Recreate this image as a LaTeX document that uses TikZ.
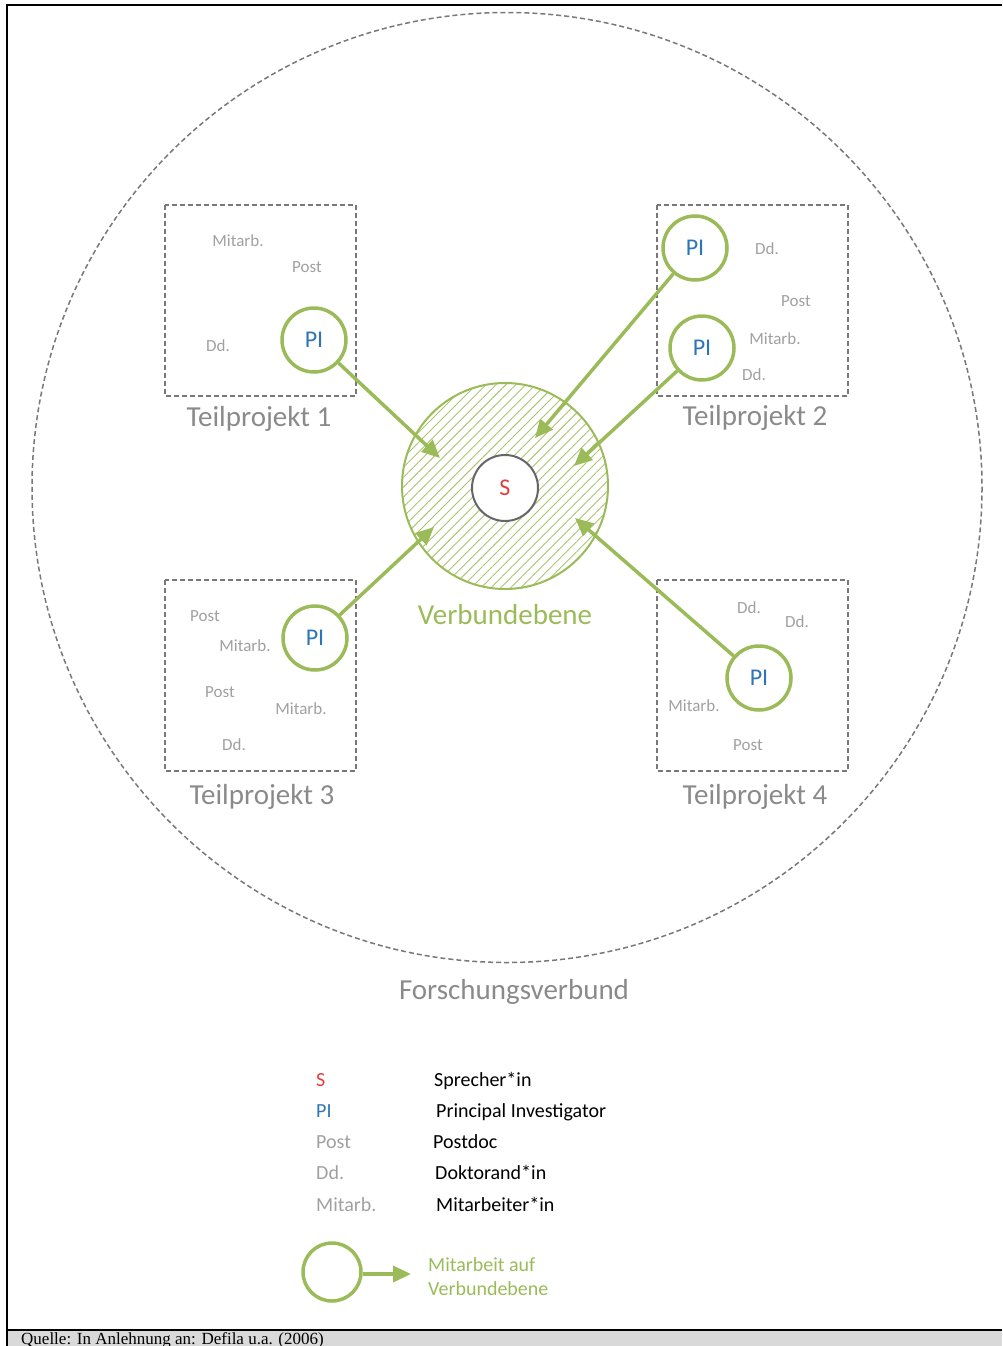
\documentclass[tikz,border=0pt]{standalone}
\usepackage{fontspec}
\setmainfont{Carlito}
\newfontfamily\srcfont{Liberation Serif}
\usetikzlibrary{arrows.meta,patterns.meta}
\definecolor{vgreen}{RGB}{155,187,89}
\definecolor{piblue}{RGB}{46,117,182}
\definecolor{sred}{RGB}{222,64,64}
\definecolor{lblgrey}{RGB}{138,138,138}
\definecolor{smgrey}{RGB}{160,160,160}
\definecolor{boxgrey}{RGB}{120,120,120}
\definecolor{bargrey}{RGB}{217,217,217}
\tikzset{
  picirc/.style={circle, draw=vgreen, line width=3.5pt, fill=white, minimum size=64pt, inner sep=0pt, text=piblue, font=\fontsize{24}{28}\selectfont},
  tpbox/.style={draw=boxgrey, dashed, dash pattern=on 5pt off 3pt, line width=1.8pt},
  biglbl/.style={text=lblgrey, font=\fontsize{29}{34}\selectfont},
  smlbl/.style={text=smgrey, font=\fontsize{17}{20}\selectfont},
  linkarrow/.style={draw=vgreen, line width=3.5pt, -{Triangle[length=18pt,width=16pt]}},
  legl/.style={anchor=base west, inner sep=0pt, font=\fontsize{20}{24}\selectfont},
}
\begin{document}
\begin{tikzpicture}[x=1pt,y=-1pt]
\useasboundingbox (0,0) rectangle (1002,1346);
% frame
\fill[bargrey] (6,1330) rectangle (1002,1346);
\draw[line width=2pt] (1002,5) -- (6.5,5) -- (6.5,1346);
\draw[line width=2pt] (6,1329.5) -- (1002,1329.5);
\node[anchor=base west, font=\srcfont\fontsize{17}{19}\selectfont, inner sep=0pt] (src) at (21,1344) {Quelle: In Anlehnung an: Defila u.a. (2006)};

% big dashed circle
\draw[boxgrey, dashed, dash pattern=on 5pt off 3pt, line width=1.5pt] (507,487.5) circle (475);
\node[biglbl] (fv) at (514,992) {Forschungsverbund};

% central hatched circle
\node[circle, draw=vgreen, line width=2pt, minimum size=206pt, inner sep=0pt,
  pattern={Lines[angle=45,distance=7pt,line width=0.9pt]}, pattern color=vgreen!85] (vb) at (505,486) {};
\node[circle, draw=black!60, line width=2pt, fill=white, minimum size=66pt, inner sep=0pt, text=sred, font=\fontsize{24}{28}\selectfont] (S) at (505,488) {S};
\node[text=vgreen, font=\fontsize{29}{34}\selectfont] (vbl) at (505,615) {Verbundebene};

% Teilprojekt boxes
\draw[tpbox] (165,205) rectangle (356,396);
\draw[tpbox] (657,205) rectangle (848,396);
\draw[tpbox] (165,580) rectangle (356,771);
\draw[tpbox] (657,580) rectangle (848,771);
\node[biglbl] (t1) at (259,419) {Teilprojekt 1};
\node[biglbl] (t2) at (755,418) {Teilprojekt 2};
\node[biglbl] (t3) at (262,797) {Teilprojekt 3};
\node[biglbl] (t4) at (755,797) {Teilprojekt 4};

% small labels
\node[smlbl] at (238,241) {Mitarb.};
\node[smlbl] at (307,267) {Post};
\node[smlbl] at (218,346) {Dd.};
\node[smlbl] at (767,249) {Dd.};
\node[smlbl] at (796,301) {Post};
\node[smlbl] at (775,339) {Mitarb.};
\node[smlbl] at (754,375) {Dd.};
\node[smlbl] at (205,616) {Post};
\node[smlbl] at (245,646) {Mitarb.};
\node[smlbl] at (220,692) {Post};
\node[smlbl] at (301,709) {Mitarb.};
\node[smlbl] at (234,745) {Dd.};
\node[smlbl] at (749,608) {Dd.};
\node[smlbl] at (797,622) {Dd.};
\node[smlbl] at (694,706) {Mitarb.};
\node[smlbl] at (748,745) {Post};

% PI circles
\node[picirc] (p1) at (314,340) {PI};
\node[picirc] (p2a) at (695,248) {PI};
\node[picirc] (p2b) at (702,348) {PI};
\node[picirc] (p3) at (315,638) {PI};
\node[picirc] (p4) at (759,678) {PI};

% arrow ends
\coordinate (e1) at (440,458);
\coordinate (e2a) at (535,438);
\coordinate (e2b) at (574,466);
\coordinate (e3) at (434,527);
\coordinate (e4) at (575,518);
\draw[linkarrow] (p1) -- (e1);
\draw[linkarrow] (p2a) -- (e2a);
\draw[linkarrow] (p2b) -- (e2b);
\draw[linkarrow] (p3) -- (e3);
\draw[linkarrow] (p4) -- (e4);

% legend
\node[legl, text=sred] (ls) at (316,1086) {S};
\node[legl] (lsd) at (434,1086) {Sprecher*in};
\node[legl, text=piblue] (lpi) at (316,1117) {PI};
\node[legl] (lpid) at (436,1117) {Principal Investigator};
\node[legl, text=smgrey] (lpo) at (316,1148) {Post};
\node[legl] (lpod) at (433,1148) {Postdoc};
\node[legl, text=smgrey] (ldd) at (316,1179) {Dd.};
\node[legl] (lddd) at (435,1179) {Doktorand*in};
\node[legl, text=smgrey] (lm) at (316,1211) {Mitarb.};
\node[legl] (lmd) at (436,1211) {Mitarbeiter*in};

\node[circle, draw=vgreen, line width=3.5pt, fill=white, minimum size=58pt, inner sep=0pt] (lc) at (332,1272) {};
\coordinate (le) at (411,1274);
\draw[linkarrow] (lc.east |- le) -- (le);
\node[anchor=north west, align=left, text=vgreen, font=\fontsize{20}{24}\selectfont, inner sep=0pt] (lt) at (428,1257) {Mitarbeit auf\\Verbundebene};
\end{tikzpicture}
\end{document}
